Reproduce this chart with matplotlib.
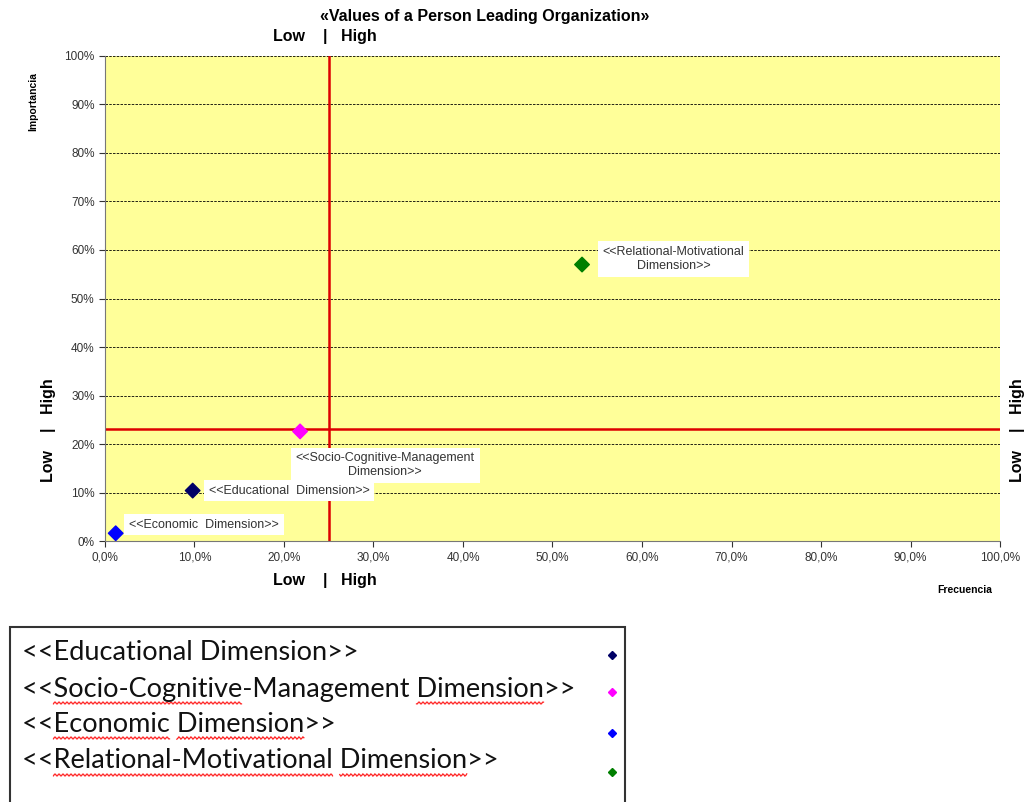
import numpy as np
import matplotlib.pyplot as plt
from matplotlib.patches import Rectangle
from matplotlib.ticker import FuncFormatter

# data (percent)
dims = ["<<Educational Dimension>>", "<<Socio-Cognitive-Management Dimension>>",
        "<<Economic Dimension>>", "<<Relational-Motivational Dimension>>"]
frecuencia = [9.8, 21.8, 1.2, 53.3]
importancia = [10.4, 22.6, 1.6, 57.0]
colors = ["#000066", "#FF00FF", "#0000FF", "#007F00"]
point_labels = ["<<Educational  Dimension>>", "<<Socio-Cognitive-Management\nDimension>>",
                "<<Economic  Dimension>>", "<<Relational-Motivational\nDimension>>"]
# words with the red spell-check squiggle in the pasted legend
squiggles = [[], ["Socio-Cognitive", "Dimension"], ["Economic", "Dimension"],
             ["Relational-Motivational", "Dimension"]]
x_cut = 25.0
y_cut = 23.0

plt.rcParams['font.family'] = ['Liberation Sans', 'DejaVu Sans']

W, H = 1030, 802
fig = plt.figure(figsize=(10.3, 8.02), dpi=100)
ax = fig.add_axes([0.1019, 0.3254, 0.8690, 0.6048])
ax.set_facecolor("#FFFF99")
ax.set_xlim(0, 100)
ax.set_ylim(0, 100)

ax.set_yticks(np.arange(0, 101, 10))
ax.set_xticks(np.arange(0, 101, 10))
ax.yaxis.grid(True, color="black", linestyle=(0, (3, 1.5)), linewidth=0.6)
ax.set_axisbelow(True)
ax.yaxis.set_major_formatter(FuncFormatter(lambda v, p: "%d%%" % v))
ax.xaxis.set_major_formatter(FuncFormatter(lambda v, p: ("%.1f%%" % v).replace(".", ",")))
ax.tick_params(labelsize=8.5, colors="#333333", length=4, width=0.8)
for s in ["top", "right"]:
    ax.spines[s].set_visible(False)
for s in ["left", "bottom"]:
    ax.spines[s].set_color("#777777")

# quadrant lines
ax.axvline(x_cut, color="#DD0000", linewidth=1.8)
ax.axhline(y_cut, color="#DD0000", linewidth=1.8)

ax.scatter(frecuencia, importancia, marker="D", s=55, c=colors, zorder=5)

# point labels: (x offset, y offset, horizontal alignment)
offsets = [(1.8, 0.0, "left"), (9.5, -7.0, "center"), (1.5, 1.8, "left"), (2.3, 1.2, "left")]
for i in range(len(dims)):
    dx, dy, ha = offsets[i]
    ax.text(frecuencia[i] + dx, importancia[i] + dy, point_labels[i], fontsize=9,
            ha=ha, va="center", color="#333333", multialignment="center",
            bbox=dict(facecolor="white", edgecolor="none", pad=3.5), zorder=6)

# titles and axis labels
fig.text(0.471, 0.979, "«Values of a Person Leading Organization»", fontsize=11.5,
         fontweight="bold", ha="center", va="center")
fig.text(0.3155, 0.954, "Low    |   High", fontsize=11.5, fontweight="bold", ha="center", va="center")
fig.text(0.3155, 0.276, "Low    |   High", fontsize=11.5, fontweight="bold", ha="center", va="center")
fig.text(0.047, 0.464, "Low    |   High", fontsize=11.5, fontweight="bold", ha="center",
         va="center", rotation=90)
fig.text(0.988, 0.464, "Low    |   High", fontsize=11.5, fontweight="bold", ha="center",
         va="center", rotation=90)
fig.text(0.032, 0.874, "Importancia", fontsize=7.5, fontweight="bold", ha="center",
         va="center", rotation=90)
fig.text(0.937, 0.264, "Frecuencia", fontsize=7.5, fontweight="bold", ha="center", va="center")

# legend box below the chart
fig.patches.append(Rectangle((10 / W, -0.01), 615 / W, (H - 627) / H + 0.01,
                             transform=fig.transFigure, facecolor="white",
                             edgecolor="#333333", linewidth=1.5))
legend_y = [652, 689, 724, 761]
marker_y = [655, 692, 733, 772]
legend_font = dict(fontsize=19.5, family=["Lato", "DejaVu Sans"])
renderer = fig.canvas.get_renderer()


def text_width(s):
    # width in pixels of a string in the legend font
    if not s:
        return 0.0
    t = fig.text(0, 0, s, **legend_font)
    w = t.get_window_extent(renderer).width
    t.remove()
    return w


for i in range(len(dims)):
    fig.text(22 / W, 1 - legend_y[i] / H, dims[i], ha="left", va="center",
             color="#111111", **legend_font)
    fig.lines.append(plt.Line2D([612 / W], [1 - marker_y[i] / H], marker="D", markersize=4,
                                color=colors[i], transform=fig.transFigure, linestyle="none"))
    for word in squiggles[i]:
        start = dims[i].index(word)
        x0 = 22 + text_width(dims[i][:start])
        x1 = 22 + text_width(dims[i][:start + len(word)])
        xs = np.arange(x0, x1, 1.0)
        ys = legend_y[i] + 14 + 1.2 * np.sin(xs * np.pi / 2.0)
        fig.lines.append(plt.Line2D(xs / W, 1 - ys / H, color="#FF2020", linewidth=0.9,
                                    transform=fig.transFigure))

fig.savefig("out.png", dpi=100)
